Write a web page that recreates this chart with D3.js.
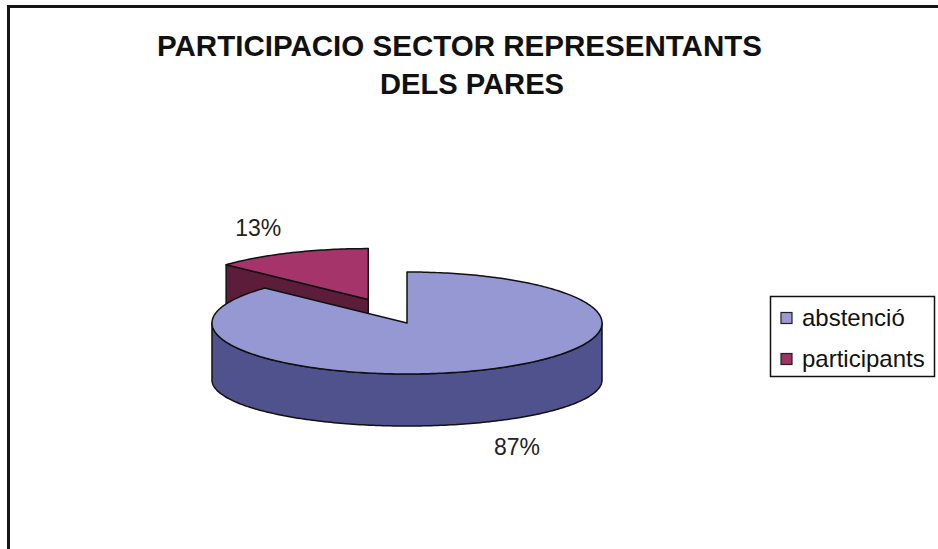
<!DOCTYPE html>
<html>
<head>
<meta charset="utf-8">
<script src="https://cdn.jsdelivr.net/npm/d3@7/dist/d3.min.js"></script>
<style>
  html, body { margin: 0; padding: 0; background: #fff; }
  svg { display: block; }
  text { font-family: "Liberation Sans", Arial, sans-serif; }
</style>
</head>
<body>
<svg id="chart" width="938" height="549"></svg>
<script>
// ---- data ----
const categories = ["abstenció", "participants"];
const values = [87, 13];
const valueLabels = ["87%", "13%"];
const titleLines = ["PARTICIPACIO SECTOR REPRESENTANTS", "DELS PARES"];
const explodeAmounts = [0, 0.5];

// ---- styles ----
const topColor = d3.scaleOrdinal(categories, ["#9698d3", "#a43469"]);
const sideColor = d3.scaleOrdinal(categories, ["#50528e", "#5c1d3b"]);
const legendColor = d3.scaleOrdinal(categories, ["#9c9ad0", "#9e3366"]);

const svg = d3.select("#chart");
const W = 938, H = 549;

svg.append("rect").attr("width", W).attr("height", H).attr("fill", "#fff");

// chart border (only left and top visible in crop)
svg.append("path")
  .attr("d", `M8.5,${H} L8.5,6.5 L${W},6.5`)
  .attr("fill", "none").attr("stroke", "#151515").attr("stroke-width", 3);

// title
svg.append("text").attr("x", 157).attr("y", 56)
  .attr("font-size", 30).attr("font-weight", "bold")
  .attr("textLength", 605).attr("lengthAdjust", "spacingAndGlyphs")
  .attr("fill", "#111").text(titleLines[0]);
svg.append("text").attr("x", 380).attr("y", 94)
  .attr("font-size", 30).attr("font-weight", "bold")
  .attr("textLength", 184).attr("lengthAdjust", "spacingAndGlyphs")
  .attr("fill", "#111").text(titleLines[1]);

// ---- 3D pie geometry ----
const cx = 407, cy = 323, rx = 195, ry = 51;
const cyb = 380, ryb = 46; // bottom ellipse
const pie = d3.pie().sort(null).startAngle(0).endAngle(2 * Math.PI);
const arcs = pie(values).map((d, i) => {
  const mid = (d.startAngle + d.endAngle) / 2;
  const e = explodeAmounts[i];
  d.cat = categories[i];
  d.label = valueLabels[i];
  d.mid = mid;
  d.off = { x: e * rx * Math.sin(mid), y: -e * ry * Math.cos(mid) };
  return d;
});

function pt(a, top, off) {
  return top
    ? [cx + off.x + rx * Math.sin(a), cy + off.y - ry * Math.cos(a)]
    : [cx + off.x + rx * Math.sin(a), cyb + off.y - ryb * Math.cos(a)];
}
function sample(a0, a1) {
  const n = Math.max(2, Math.ceil(Math.abs(a1 - a0) / (Math.PI / 180)));
  return d3.range(n + 1).map(k => a0 + (a1 - a0) * k / n);
}
const line = d3.line();

// draw back slices first
const order = arcs.slice().sort((a, b) => Math.cos(b.mid) - Math.cos(a.mid));
const g = svg.append("g");
const stroke = "#111", sw = 1.5;

order.forEach(d => {
  const off = d.off;
  const cTop = [cx + off.x, cy + off.y];
  const cBot = [cx + off.x, cyb + off.y];
  // radial faces
  if (Math.sin(d.startAngle) < -1e-6) {
    const a = d.startAngle;
    g.append("path").attr("d", line([cTop, pt(a, true, off), pt(a, false, off), cBot]) + "Z")
      .attr("fill", sideColor(d.cat)).attr("stroke", stroke).attr("stroke-width", sw).attr("stroke-linejoin", "round");
  }
  if (Math.sin(d.endAngle) > 1e-6) {
    const a = d.endAngle;
    g.append("path").attr("d", line([cTop, pt(a, true, off), pt(a, false, off), cBot]) + "Z")
      .attr("fill", sideColor(d.cat)).attr("stroke", stroke).attr("stroke-width", sw).attr("stroke-linejoin", "round");
  }
  // outer side (front half only)
  const s0 = Math.max(d.startAngle, Math.PI / 2), s1 = Math.min(d.endAngle, 3 * Math.PI / 2);
  if (s1 > s0) {
    const topPts = sample(s0, s1).map(a => pt(a, true, off));
    const botPts = sample(s1, s0).map(a => pt(a, false, off));
    g.append("path").attr("d", line(topPts.concat(botPts)) + "Z")
      .attr("fill", sideColor(d.cat)).attr("stroke", stroke).attr("stroke-width", sw).attr("stroke-linejoin", "round");
  }
  // top face
  const rim = sample(d.startAngle, d.endAngle).map(a => pt(a, true, off));
  g.append("path").attr("d", line([cTop].concat(rim)) + "Z")
    .attr("fill", topColor(d.cat)).attr("stroke", stroke).attr("stroke-width", sw).attr("stroke-linejoin", "round");
});

// value labels
arcs.forEach(d => {
  const k = 1.42;
  const lx = cx + d.off.x + k * rx * Math.sin(d.mid);
  let ly = cy + d.off.y - k * ry * Math.cos(d.mid);
  if (Math.cos(d.mid) < 0) ly += (cyb - cy);
  else ly -= 5;
  svg.append("text").attr("x", lx).attr("y", ly).attr("dy", "0.36em")
    .attr("text-anchor", "middle").attr("font-size", 23).attr("fill", "#222")
    .text(d.label);
});

// legend
const lg = svg.append("g");
lg.append("rect").attr("x", 770.5).attr("y", 296.5).attr("width", 164).attr("height", 80)
  .attr("fill", "#fff").attr("stroke", "#111").attr("stroke-width", 1.5);
const ly0 = 318, lstep = 41;
categories.forEach((c, i) => {
  lg.append("rect").attr("x", 781).attr("y", ly0 + i * lstep - 5.5).attr("width", 11).attr("height", 11)
    .attr("fill", legendColor(c)).attr("stroke", "#222").attr("stroke-width", 1.2);
  lg.append("text").attr("x", 802).attr("y", ly0 + i * lstep).attr("dy", "0.35em")
    .attr("font-size", 24).attr("fill", "#111").text(c);
});
</script>
</body>
</html>
